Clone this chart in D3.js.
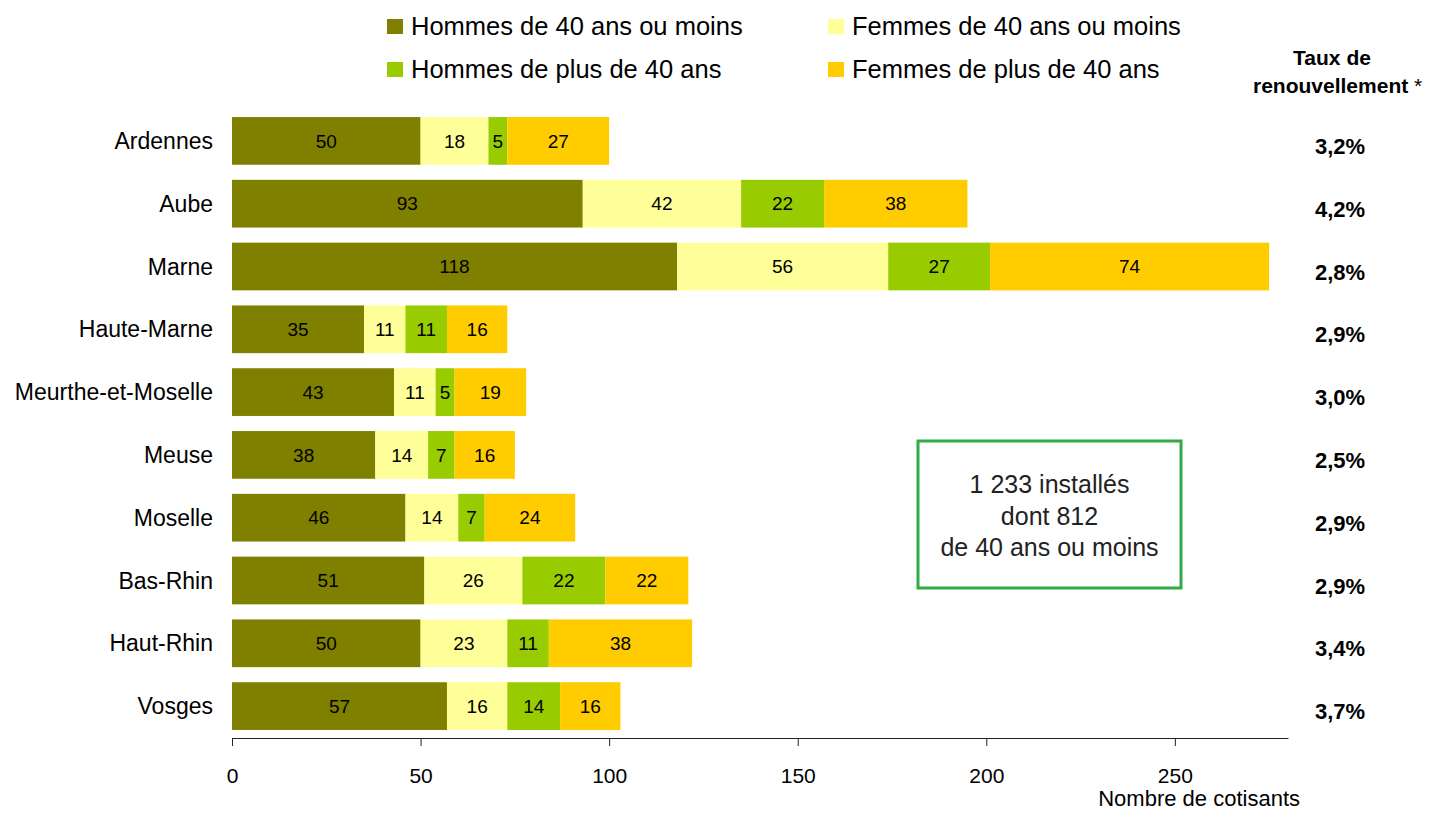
<!DOCTYPE html>
<html lang="fr">
<head>
<meta charset="utf-8">
<script src="https://d3js.org/d3.v7.min.js"></script>
<style>
  body { margin: 0; background: #fff; }
  svg { font-family: "Liberation Sans", Arial, sans-serif; }
  .axis path, .axis line { stroke: #222; }
  .axis text { font-size: 21px; fill: #000; }
</style>
</head>
<body>
<svg id="chart" width="1433" height="813"></svg>
<script>
// departements, top to bottom
const departements = ["Ardennes", "Aube", "Marne", "Haute-Marne", "Meurthe-et-Moselle",
  "Meuse", "Moselle", "Bas-Rhin", "Haut-Rhin", "Vosges"];

const series = ["Hommes de 40 ans ou moins", "Femmes de 40 ans ou moins",
  "Hommes de plus de 40 ans", "Femmes de plus de 40 ans"];
const colors = ["#808000", "#ffff99", "#99cc00", "#ffcc00"];

const hommesMoins40 = [50, 93, 118, 35, 43, 38, 46, 51, 50, 57];
const femmesMoins40 = [18, 42, 56, 11, 11, 14, 14, 26, 23, 16];
const hommesPlus40  = [5, 22, 27, 11, 5, 7, 7, 22, 11, 14];
const femmesPlus40  = [27, 38, 74, 16, 19, 16, 24, 22, 38, 16];

const tauxRenouvellement = ["3,2%", "4,2%", "2,8%", "2,9%", "3,0%", "2,5%", "2,9%", "2,9%", "3,4%", "3,7%"];

const xTicks = [0, 50, 100, 150, 200, 250];
const encadre = ["1 233 installés", "dont 812", "de 40 ans ou moins"];

const svg = d3.select("#chart");

const rows = departements.map((d, i) => ({
  dep: d,
  s0: hommesMoins40[i], s1: femmesMoins40[i], s2: hommesPlus40[i], s3: femmesPlus40[i]
}));

let x = d3.scaleLinear().domain([0, 280]).range([232, 1288]);
let y = d3.scaleBand().domain(departements).range([109.5, 737.5])
  .paddingInner(0.24).paddingOuter(0.12);

let stack = d3.stack().keys(["s0", "s1", "s2", "s3"])(rows);

// bars
let layers = svg.append("g").selectAll("g")
  .data(stack)
  .join("g")
  .attr("fill", (d, i) => colors[i]);

layers.selectAll("rect")
  .data(d => d)
  .join("rect")
  .attr("x", d => x(d[0]))
  .attr("width", d => x(d[1]) - x(d[0]))
  .attr("y", d => y(d.data.dep))
  .attr("height", y.bandwidth());

layers.selectAll("text")
  .data(d => d)
  .join("text")
  .attr("x", d => (x(d[0]) + x(d[1])) / 2)
  .attr("y", d => y(d.data.dep) + y.bandwidth() / 2)
  .attr("dy", "0.35em")
  .attr("text-anchor", "middle")
  .style("font-size", "19px")
  .style("fill", "#000")
  .text(d => d[1] - d[0]);

// departement labels
svg.append("g").selectAll("text")
  .data(departements)
  .join("text")
  .attr("x", 213)
  .attr("y", d => y(d) + y.bandwidth() / 2)
  .attr("dy", "0.35em")
  .attr("text-anchor", "end")
  .style("font-size", "23px")
  .text(d => d);

// x axis
svg.append("g")
  .attr("class", "axis")
  .attr("transform", "translate(0,738)")
  .call(d3.axisBottom(x).tickValues(xTicks).tickSize(8).tickSizeOuter(0).tickPadding(22));

svg.append("text")
  .attr("x", 1300)
  .attr("y", 806)
  .attr("text-anchor", "end")
  .style("font-size", "22px")
  .text("Nombre de cotisants");

// taux de renouvellement
svg.append("g").selectAll("text")
  .data(tauxRenouvellement)
  .join("text")
  .attr("x", 1340)
  .attr("y", (d, i) => y(departements[i]) + y.bandwidth() / 2 + 13)
  .attr("text-anchor", "middle")
  .style("font-size", "22px")
  .style("font-weight", "bold")
  .text(d => d);

svg.append("text")
  .attr("x", 1332).attr("y", 65)
  .attr("text-anchor", "middle")
  .style("font-size", "21px").style("font-weight", "bold")
  .text("Taux de");
let t2 = svg.append("text")
  .attr("x", 1253).attr("y", 93)
  .style("font-size", "21px");
t2.append("tspan").style("font-weight", "bold").text("renouvellement");
t2.append("tspan").text(" *");

// legend
let legend = svg.append("g").selectAll("g")
  .data(series)
  .join("g")
  .attr("transform", (d, i) => `translate(${i % 2 === 0 ? 387 : 828},${i < 2 ? 19 : 62})`);
legend.append("rect")
  .attr("width", 16).attr("height", 15)
  .attr("fill", (d, i) => colors[i]);
legend.append("text")
  .attr("x", 24).attr("y", 16)
  .style("font-size", "25.5px")
  .text(d => d);

// encadre
svg.append("rect")
  .attr("x", 918).attr("y", 441)
  .attr("width", 263).attr("height", 147)
  .attr("fill", "none")
  .attr("stroke", "#33aa44")
  .attr("stroke-width", 3);
svg.append("g").selectAll("text")
  .data(encadre)
  .join("text")
  .attr("x", 1049.5)
  .attr("y", (d, i) => 493 + i * 31.5)
  .attr("text-anchor", "middle")
  .style("font-size", "25px")
  .style("fill", "#222")
  .text(d => d);
</script>
</body>
</html>
